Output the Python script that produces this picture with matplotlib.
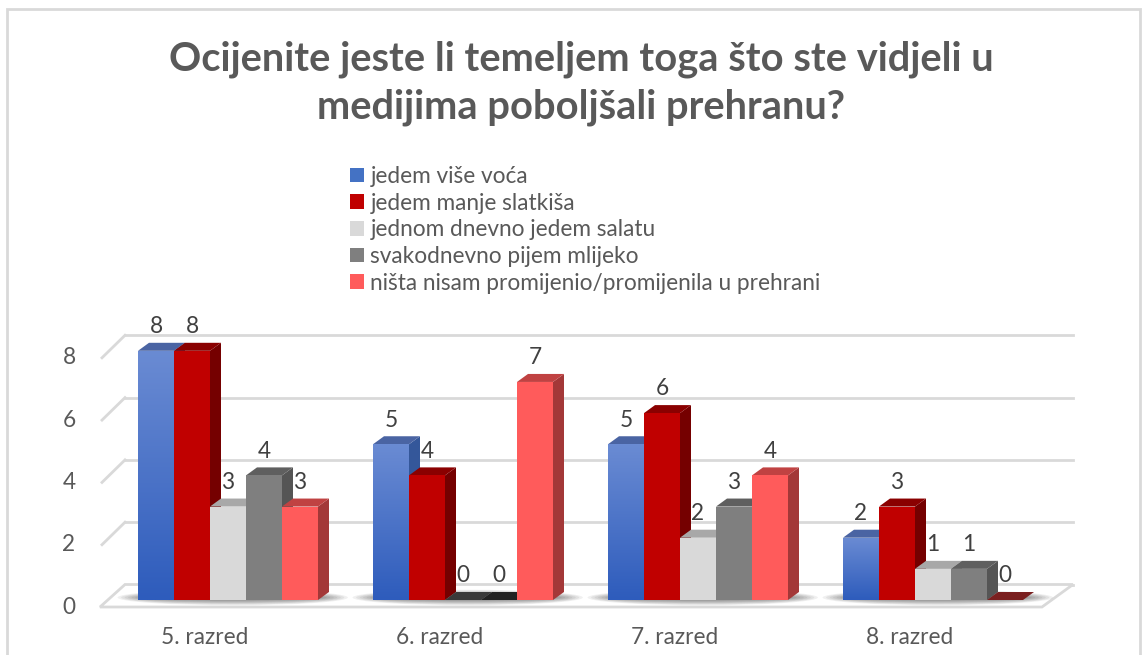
# -*- coding: utf-8 -*-

import numpy as np
import matplotlib.pyplot as plt
from matplotlib.patches import Polygon, Rectangle, Ellipse, Patch
from matplotlib.colors import LinearSegmentedColormap

plt.rcParams['font.family'] = ['Lato', 'DejaVu Sans']

title = "Ocijenite jeste li temeljem toga što ste vidjeli u\nmedijima poboljšali prehranu?"
categories = ["5. razred", "6. razred", "7. razred", "8. razred"]
series = ["jedem više voća", "jedem manje slatkiša", "jednom dnevno jedem salatu",
          "svakodnevno pijem mlijeko", "ništa nisam promijenio/promijenila u prehrani"]
vise_voca = [8, 5, 5, 2]
manje_slatkisa = [8, 4, 6, 3]
salata = [3, 0, 2, 1]
mlijeko = [4, 0, 3, 1]
nista = [3, 7, 4, 0]
y_ticks = [0, 2, 4, 6, 8]

values = [vise_voca, manje_slatkisa, salata, mlijeko, nista]
front_colors = ["#4472C4", "#C00000", "#D9D9D9", "#7F7F7F", "#FF5B5B"]
top_colors = ["#4A64A3", "#8A0000", "#A8A8A8", "#5F5F5F", "#C04242"]
side_colors = ["#34579A", "#750000", "#B5B5B5", "#555555", "#A33838"]
zero_colors = ["#2A3A60", "#6A0000", "#3A3A3A", "#222222", "#7A1F1F"]

TEXT = "#595959"
GRID = "#D9D9D9"
FS = 16.3

# pixel scale of the reference: one category = 235 px, one unit = 31.15 px
PX, PY = 235.0, 31.15
W = 36 / PX            # bar width
DX, DY = 11 / PX, 8 / PY   # bar depth
WALL_X0, WALL_X1, WALL_Y = -103 / PX, 845 / PX, 15.5 / PY
FLOOR_X0, FLOOR_X1, FLOOR_Y = -128 / PX, 814 / PX, -7 / PY

fig = plt.figure(figsize=(11.48, 6.55), dpi=100)
ax = fig.add_axes([40 / 1148, 5 / 655, 1060 / 1148, 350 / 655])
ax.set_axis_off()

# back wall gridlines and the left wall
for v in y_ticks:
    ax.plot([WALL_X0, WALL_X1], [v + WALL_Y, v + WALL_Y], color=GRID, lw=2, zorder=1)
    if v > 0:
        ax.plot([FLOOR_X0 + 2 / PX, WALL_X0], [v + FLOOR_Y, v + WALL_Y], color=GRID, lw=2, zorder=1)
    ax.text(FLOOR_X0 - 31 / PX, v + FLOOR_Y, str(v), ha="center", va="center",
            fontsize=FS, color=TEXT)

# floor
floor = Polygon([(FLOOR_X0, FLOOR_Y), (FLOOR_X1, FLOOR_Y), (WALL_X1, WALL_Y), (WALL_X0, WALL_Y)],
                closed=True, facecolor="white", edgecolor=GRID, lw=2, zorder=1)
ax.add_patch(floor)

# soft shadows under the groups
for i in range(len(categories)):
    for k in range(8):
        ax.add_patch(Ellipse((i + 0.02, 0.08), 0.98 - k * 0.03, 0.5 - k * 0.045,
                             facecolor="black", edgecolor="none", alpha=0.06, zorder=2))

blue_cmap = LinearSegmentedColormap.from_list("blue", ["#2E5CBC", "#6A8BD3"])
grad = np.linspace(0, 1, 100).reshape(-1, 1)

for j, vals in enumerate(values):
    z = 3 + j * 0.1
    for i, v in enumerate(vals):
        x0 = i + (j - 2) * W - W / 2
        if v == 0:
            ax.add_patch(Polygon([(x0, 0), (x0 + W, 0), (x0 + W + DX, DY), (x0 + DX, DY)],
                                 closed=True, facecolor=zero_colors[j], edgecolor="none", zorder=z))
        else:
            ax.add_patch(Polygon([(x0 + W, 0), (x0 + W + DX, DY), (x0 + W + DX, v + DY), (x0 + W, v)],
                                 closed=True, facecolor=side_colors[j], edgecolor="none", zorder=z))
            ax.add_patch(Polygon([(x0, v), (x0 + W, v), (x0 + W + DX, v + DY), (x0 + DX, v + DY)],
                                 closed=True, facecolor=top_colors[j], edgecolor="none", zorder=z))
            bar = ax.bar(x0, v, W, align="edge", color=front_colors[j], lw=0, zorder=z)[0]
            if j == 0:
                img = ax.imshow(grad, extent=[x0, x0 + W, 0, v], origin="lower", cmap=blue_cmap,
                                aspect="auto", zorder=z + 0.01)
                img.set_clip_path(bar)
        ax.text(x0 + W / 2, v + DY + 0.52, str(v), ha="center", va="center",
                fontsize=FS, color="#404040", zorder=10)

for i, cat in enumerate(categories):
    ax.text(i - 23 / PX, -37 / PY, cat, ha="center", va="center", fontsize=FS, color=TEXT)

ax.set_xlim((40 - 228) / PX, (1100 - 228) / PX)
ax.set_ylim((600 - 650) / PY, (600 - 300) / PY)

fig.text(581 / 1148, 1 - 40 / 655, title, ha="center", va="top", fontsize=28.7,
         fontweight="bold", color=TEXT, linespacing=1.38)

handles = [Patch(facecolor=c, edgecolor="none") for c in front_colors]
fig.legend(handles, series, loc="upper left", bbox_to_anchor=(350 / 1148, 1 - 166 / 655),
           frameon=False, fontsize=FS, labelcolor=TEXT, handlelength=0.6, handleheight=0.6,
           handletextpad=0.3, labelspacing=0.25, borderpad=0, borderaxespad=0)

fig.patches.append(Rectangle((7 / 1148, -0.05), 1133 / 1148, 1.05 - 9 / 655, transform=fig.transFigure,
                             fill=False, edgecolor=GRID, lw=2))

fig.savefig("out.png", dpi=100)
